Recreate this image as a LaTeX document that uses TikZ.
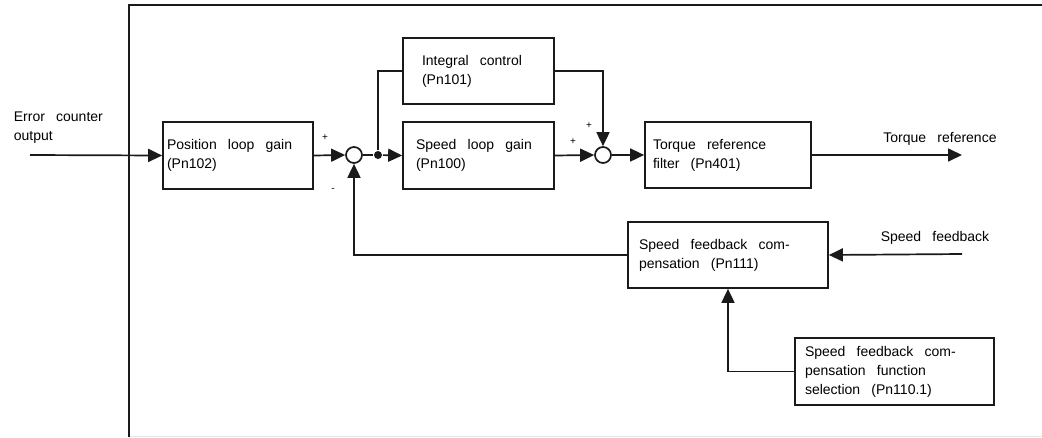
\documentclass[tikz,border=0pt]{standalone}
\usepackage{fontspec}
\setmainfont{Liberation Sans}
\usepackage{tikz}
\usetikzlibrary{arrows.meta,positioning,calc}
\usepackage{xcolor}
\definecolor{ink}{HTML}{1A1A1A}
\definecolor{rim}{HTML}{E6E6E6}
\newcommand{\blkfont}{\fontsize{14}{19}\selectfont}
\newcommand{\widesp}{\spaceskip=0.8em plus 0.1em\relax}

\begin{document}
\begin{tikzpicture}[x=1pt,y=-1pt,
    line width=1.7pt, draw=ink,
    >={Triangle[length=14pt,width=13pt]},
    blk/.style={draw=ink,line width=1.7pt,rectangle,align=left,
      font=\blkfont,anchor=center,inner ysep=0pt,
      execute at begin node=\widesp},
    sumpt/.style={draw=ink,line width=1.7pt,circle,minimum size=16pt,inner sep=0pt,fill=white},
    jdot/.style={fill=ink,circle,minimum size=8pt,inner sep=0pt},
    sgn/.style={font=\fontsize{10}{12}\selectfont,inner sep=0pt},
    lbl/.style={font=\blkfont,inner sep=0pt,align=left,
      execute at begin node=\widesp}]
  \useasboundingbox (0,0) rectangle (1042,437);
  % frame
  \draw[rim,line width=1pt] (129,436) -- (1042,436);
  \draw[ink] (129,437) -- (129,5) -- (1042,5);

  % blocks
  \node[blk,minimum width=150pt,minimum height=67pt,text width=142pt,inner xsep=4pt] (pos) at (238,155.5) {Position loop gain\\(Pn102)};
  \node[blk,minimum width=151pt,minimum height=66pt,text width=125pt,inner xsep=13pt] (integ) at (478.5,71) {\hspace{6pt}Integral control\\\hspace{6pt}(Pn101)};
  \node[blk,minimum width=151pt,minimum height=67pt,text width=125pt,inner xsep=13pt] (speed) at (478.5,155.5) {Speed loop gain\\(Pn100)};
  \node[blk,minimum width=166pt,minimum height=66pt,text width=150pt,inner xsep=8pt] (torque) at (728,155) {Torque reference\\filter (Pn401)};
  \node[blk,minimum width=200pt,minimum height=66pt,text width=178pt,inner xsep=11pt] (comp) at (728,255) {Speed feedback com-\\pensation (Pn111)};
  \node[blk,minimum width=199pt,minimum height=67pt,text width=179pt,inner xsep=10pt] (sel) at (894.5,371.5) {Speed feedback com-\\pensation function\\selection (Pn110.1)};

  % summing points
  \node[sumpt] (sum1) at (354,155) {};
  \node[sumpt] (sum2) at (603,155) {};
  \node[jdot] (split) at (378,155) {};

  % free ends
  \coordinate (in) at (30,155);
  \coordinate (out) at (962,155);
  \coordinate (fbin) at (962,254);

  % connectors
  \draw[->] (in) -- (pos.west);
  \draw[->] (pos.east) -- (sum1.west);
  \draw (sum1.east) -- (split);
  \draw[->] (split) -- (speed.west);
  \draw (split) |- (integ.west);
  \draw[->] (integ.east) -| (sum2.north);
  \draw[->] (speed.east) -- (sum2.west);
  \draw[->] (sum2.east) -- (torque.west);
  \draw[->] (torque.east) -- (out);
  \draw[->] (fbin) -- (comp.east);
  \draw[->] (comp.west) -| (sum1.south);
  \draw[->] (sel.west) -| (comp.south);

  % signs and labels
  \node[sgn] (p1) at (325,138) {+};
  \node[sgn] (m1) at (333,190) {-};
  \node[sgn] (p2) at (589,126) {+};
  \node[sgn] (p3) at (573,142) {+};
  \node[lbl,anchor=north west] (errin) at (13,111) {Error counter\\output};
  \node[lbl] (torqout) at (940,139) {Torque reference};
  \node[lbl] (fbinlbl) at (935,238) {Speed feedback};
\end{tikzpicture}
\end{document}
